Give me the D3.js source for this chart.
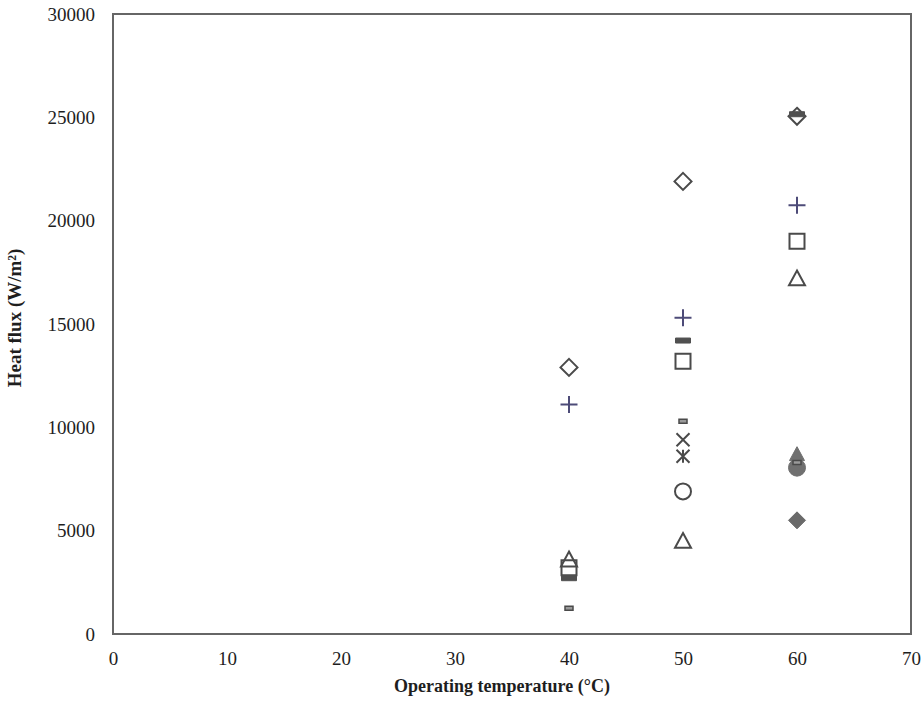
<!DOCTYPE html>
<html>
<head>
<meta charset="utf-8">
<script src="https://cdn.jsdelivr.net/npm/d3@7"></script>
<style>
  html, body { margin: 0; padding: 0; background: #fff; }
  svg { display: block; }
</style>
</head>
<body>
<svg id="chart" width="923" height="705"></svg>
<script>
// ---- data ----
const temps = [40, 50, 60];
const xTicks = [0, 10, 20, 30, 40, 50, 60, 70];
const yTicks = [0, 5000, 10000, 15000, 20000, 25000, 30000];

const diamondOpen   = [12900, 21900, 25050];
const plusMark      = [11100, 15300, 20750];
const thickDash     = [2700, 14200, 25150];
const squareOpen    = [3200, 13200, 19000];
const smallDash     = [1250, 10300, 8300];
const crossMark     = [null, 9400, null];
const asteriskMark  = [null, 8600, null];
const circleOpen    = [null, 6900, null];
const triangleOpen  = [3600, 4500, 17200];
const triangleFill  = [null, null, 8700];
const circleFill    = [null, null, 8050];
const diamondFill   = [null, null, 5500];

const xLabel = "Operating temperature (°C)";
const yLabel = "Heat flux (W/m²)";

// ---- layout ----
const svg = d3.select("#chart");
const L = 113, R = 911, T = 14, B = 634;
const x = d3.scaleLinear().domain([0, 70]).range([L, R]);
const y = d3.scaleLinear().domain([0, 30000]).range([B, T]);

svg.append("rect").attr("width", 923).attr("height", 705).attr("fill", "#fff");

const font = "'Liberation Serif', 'Times New Roman', serif";

// axes
const gx = svg.append("g").attr("transform", `translate(0,${B})`)
  .call(d3.axisBottom(x).tickValues(xTicks).tickSize(0).tickPadding(18).tickFormat(d3.format("d")));
const gy = svg.append("g").attr("transform", `translate(${L},0)`)
  .call(d3.axisLeft(y).tickValues(yTicks).tickSize(0).tickPadding(18).tickFormat(d3.format("d")));
[gx, gy].forEach(g => {
  g.select(".domain").remove();
  g.selectAll("text").attr("font-family", font).attr("font-size", 19).attr("fill", "#1e1e1e");
});

// plot box
svg.append("rect").attr("x", L).attr("y", T).attr("width", R - L).attr("height", B - T)
  .attr("fill", "none").attr("stroke", "#666").attr("stroke-width", 2);

// titles
svg.append("text").attr("x", 502).attr("y", 692).attr("text-anchor", "middle")
  .attr("font-family", font).attr("font-weight", "bold").attr("font-size", 18).attr("fill", "#1e1e1e")
  .text(xLabel);
svg.append("text").attr("transform", "translate(21,318) rotate(-90)").attr("text-anchor", "middle")
  .attr("font-family", font).attr("font-weight", "bold").attr("font-size", 19).attr("fill", "#1e1e1e")
  .text(yLabel);

// ---- custom symbol types (size = half-width in px) ----
const shapes = {
  diamond: { draw(c, r) { c.moveTo(0, -r); c.lineTo(r, 0); c.lineTo(0, r); c.lineTo(-r, 0); c.closePath(); } },
  square:  { draw(c, r) { c.rect(-r, -r, 2 * r, 2 * r); } },
  triangle:{ draw(c, r) { c.moveTo(0, -r); c.lineTo(r, r * 0.85); c.lineTo(-r, r * 0.85); c.closePath(); } },
  circle:  { draw(c, r) { c.moveTo(r, 0); c.arc(0, 0, r, 0, 2 * Math.PI); } },
  plus:    { draw(c, r) { c.moveTo(-r, 0); c.lineTo(r, 0); c.moveTo(0, -r); c.lineTo(0, r); } },
  cross:   { draw(c, r) { c.moveTo(-r, -r); c.lineTo(r, r); c.moveTo(r, -r); c.lineTo(-r, r); } },
  asterisk:{ draw(c, r) { c.moveTo(-r, -r); c.lineTo(r, r); c.moveTo(r, -r); c.lineTo(-r, r); c.moveTo(0, -r); c.lineTo(0, r); } },
  thickDash:{ draw(c, r) { c.rect(-r, -2.5, 2 * r, 5); } },
  smallDash:{ draw(c, r) { c.rect(-r, -2, 2 * r, 4); } }
};

const series = [
  { v: triangleOpen,  shape: "triangle",  r: 8,   fill: "none",    stroke: "#4a4a4a", sw: 2 },
  { v: squareOpen,    shape: "square",    r: 7.5, fill: "none",    stroke: "#4a4a4a", sw: 2 },
  { v: diamondOpen,   shape: "diamond",   r: 8.5, fill: "none",    stroke: "#4a4a4a", sw: 2 },
  { v: circleOpen,    shape: "circle",    r: 8,   fill: "none",    stroke: "#4a4a4a", sw: 2 },
  { v: plusMark,      shape: "plus",      r: 8.5, fill: "none",    stroke: "#4d4b78", sw: 2 },
  { v: crossMark,     shape: "cross",     r: 6.5, fill: "none",    stroke: "#4a4a4a", sw: 2 },
  { v: asteriskMark,  shape: "asterisk",  r: 6.5, fill: "none",    stroke: "#4a4a4a", sw: 2 },
  { v: triangleFill,  shape: "triangle",  r: 7.5, fill: "#707070", stroke: "#707070", sw: 1 },
  { v: circleFill,    shape: "circle",    r: 8.5, fill: "#707070", stroke: "#707070", sw: 1 },
  { v: diamondFill,   shape: "diamond",   r: 8.5, fill: "#6a6a6a", stroke: "#6a6a6a", sw: 1 },
  { v: thickDash,     shape: "thickDash", r: 7.5, fill: "#505050", stroke: "#505050", sw: 1 },
  { v: smallDash,     shape: "smallDash", r: 4,   fill: "#9a9a9a", stroke: "#4a4a4a", sw: 1.5 }
];

series.forEach(s => {
  const pts = temps.map((t, i) => ({ t, v: s.v[i] })).filter(d => d.v != null);
  svg.append("g").selectAll("path").data(pts).join("path")
    .attr("transform", d => `translate(${x(d.t)},${y(d.v)})`)
    .attr("d", d3.symbol().type(shapes[s.shape]).size(s.r))
    .attr("fill", s.fill).attr("stroke", s.stroke).attr("stroke-width", s.sw)
    .attr("stroke-linejoin", "miter");
});
</script>
</body>
</html>
